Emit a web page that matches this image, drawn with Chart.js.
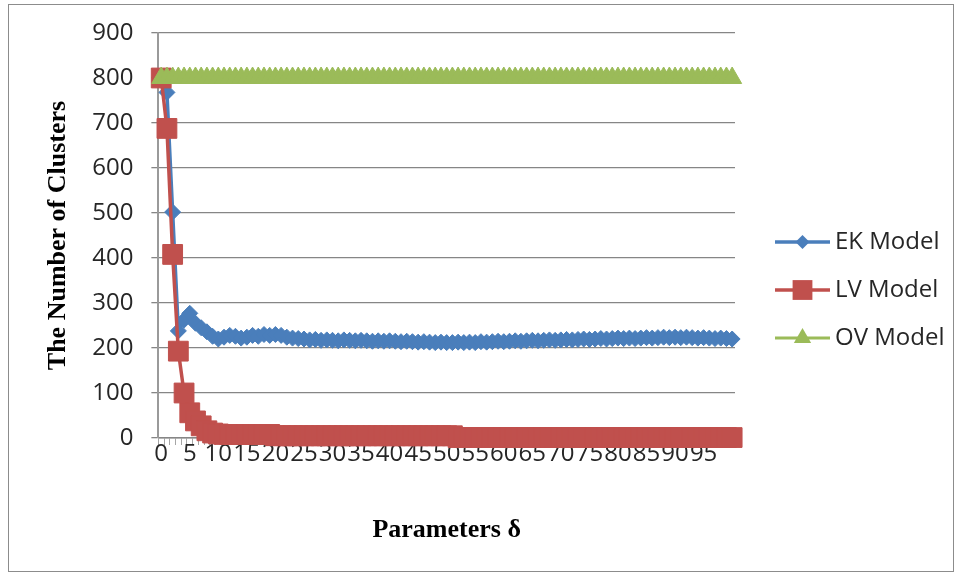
<!DOCTYPE html>
<html>
<head>
<meta charset="utf-8">
<title>Number of clusters vs parameter delta</title>
<script src="https://cdn.jsdelivr.net/npm/chart.js@4.4.1/dist/chart.umd.min.js"></script>
<style>
  html, body { margin: 0; padding: 0; background: #fff; }
  #wrap { position: relative; width: 961px; height: 579px; }
  #frame { position: absolute; left: 8px; top: 4px; width: 944px; height: 566px; border: 1px solid #8c8c8c; pointer-events: none; }
  #chart { position: absolute; left: 0; top: 0; }
</style>
</head>
<body>
<div id="wrap">
  <canvas id="chart" width="961" height="579"></canvas>
  <div id="frame"></div>
</div>
<script>
// x categories: parameter delta
const deltas = [
  0, 1, 2, 3, 4, 5, 6, 7, 8, 9,
  10, 11, 12, 13, 14, 15, 16, 17, 18, 19,
  20, 21, 22, 23, 24, 25, 26, 27, 28, 29,
  30, 31, 32, 33, 34, 35, 36, 37, 38, 39,
  40, 41, 42, 43, 44, 45, 46, 47, 48, 49,
  50, 51, 52, 53, 54, 55, 56, 57, 58, 59,
  60, 61, 62, 63, 64, 65, 66, 67, 68, 69,
  70, 71, 72, 73, 74, 75, 76, 77, 78, 79,
  80, 81, 82, 83, 84, 85, 86, 87, 88, 89,
  90, 91, 92, 93, 94, 95, 96, 97, 98, 99,
  100
];

const ekModel = [
  800, 768, 502, 238, 262, 277, 255, 245, 236, 226,
  220, 224, 228, 226, 222, 224, 228, 226, 230, 228,
  230, 228, 224, 222, 221, 220, 218, 219, 217, 218,
  217, 216, 218, 217, 216, 217, 216, 215, 216, 215,
  216, 215, 214, 215, 214, 213, 214, 213, 212, 213,
  212, 212, 213, 212, 213, 212, 214, 213, 214, 215,
  214, 215, 216, 215, 216, 217, 216, 217, 218, 217,
  218, 219, 218, 219, 220, 219, 220, 221, 220, 221,
  222, 221, 222, 221, 222, 223, 222, 223, 224, 223,
  224, 223, 224, 223, 222, 223, 222, 221, 222, 221,
  220
];

const lvModel = [
  800, 688, 408, 193, 100, 56, 38, 27, 16, 11,
  9, 8, 8, 8, 8, 8, 8, 8, 8, 8,
  5, 5, 5, 5, 5, 5, 5, 5, 5, 5,
  5, 5, 5, 5, 5, 5, 5, 5, 5, 5,
  5, 5, 5, 5, 5, 5, 5, 5, 5, 5,
  5, 5, 1, 1, 1, 1, 1, 1, 1, 1,
  1, 1, 1, 1, 1, 1, 1, 1, 1, 1,
  1, 1, 1, 1, 1, 1, 1, 1, 1, 1,
  1, 1, 1, 1, 1, 1, 1, 1, 1, 1,
  1, 1, 1, 1, 1, 1, 1, 1, 1, 1,
  1
];

const ovModel = [
  800, 800, 800, 800, 800, 800, 800, 800, 800, 800,
  800, 800, 800, 800, 800, 800, 800, 800, 800, 800,
  800, 800, 800, 800, 800, 800, 800, 800, 800, 800,
  800, 800, 800, 800, 800, 800, 800, 800, 800, 800,
  800, 800, 800, 800, 800, 800, 800, 800, 800, 800,
  800, 800, 800, 800, 800, 800, 800, 800, 800, 800,
  800, 800, 800, 800, 800, 800, 800, 800, 800, 800,
  800, 800, 800, 800, 800, 800, 800, 800, 800, 800,
  800, 800, 800, 800, 800, 800, 800, 800, 800, 800,
  800, 800, 800, 800, 800, 800, 800, 800, 800, 800,
  800
];

const yTicks = [0, 100, 200, 300, 400, 500, 600, 700, 800, 900];

const BLUE = '#4a7ebb';
const RED = '#c0504d';
const GREEN = '#9bbb59';
const GRID = '#868686';
const TEXT = '#262626';

// draws a small marker for the legend samples
function legendMarker(ctx, style, x, y, r) {
    ctx.beginPath();
    if (style === 'rectRot') {
        ctx.moveTo(x, y - r); ctx.lineTo(x + r, y); ctx.lineTo(x, y + r); ctx.lineTo(x - r, y);
    } else if (style === 'rect') {
        const s = r * Math.SQRT1_2;
        ctx.rect(x - s, y - s, 2 * s, 2 * s);
    } else {
        ctx.moveTo(x, y - r);
        ctx.lineTo(x + r * 0.866, y + r / 2);
        ctx.lineTo(x - r * 0.866, y + r / 2);
    }
    ctx.closePath();
    ctx.fill();
}

const sideLegend = {
    id: 'sideLegend',
    afterDraw(chart) {
        const ctx = chart.ctx;
        const area = chart.chartArea;
        const x0 = area.right + 40, x1 = x0 + 55;
        const rowGap = 48;
        const yStart = 242;
        ctx.save();
        chart.data.datasets.forEach((ds, i) => {
            const y = yStart + i * rowGap;
            ctx.strokeStyle = ds.borderColor;
            ctx.fillStyle = ds.borderColor;
            ctx.lineWidth = ds.borderWidth;
            ctx.beginPath();
            ctx.moveTo(x0, y);
            ctx.lineTo(x1, y);
            ctx.stroke();
            legendMarker(ctx, ds.pointStyle, (x0 + x1) / 2, y, ds.legendRadius);
            ctx.fillStyle = TEXT;
            ctx.font = '24px "Open Sans"';
            ctx.textBaseline = 'middle';
            ctx.textAlign = 'left';
            ctx.fillText(ds.label, x1 + 5, y);
        });
        ctx.restore();
    }
};

const tickFont = { family: 'Open Sans', size: 24 };
const titleFont = { family: 'Liberation Serif', size: 26, weight: 'bold' };

new Chart(document.getElementById('chart'), {
    type: 'line',
    data: {
        labels: deltas,
        datasets: [
            {
                label: 'EK Model', data: ekModel, order: 3,
                borderColor: BLUE, backgroundColor: BLUE, borderWidth: 3.5,
                pointStyle: 'rectRot', pointRadius: 8, legendRadius: 7,
                pointBackgroundColor: BLUE, pointBorderColor: BLUE, pointBorderWidth: 1
            },
            {
                label: 'LV Model', data: lvModel, order: 2,
                borderColor: RED, backgroundColor: RED, borderWidth: 3.5,
                pointStyle: 'rect', pointRadius: 14, legendRadius: 14,
                pointBackgroundColor: RED, pointBorderColor: RED, pointBorderWidth: 1
            },
            {
                label: 'OV Model', data: ovModel, order: 1,
                borderColor: GREEN, backgroundColor: GREEN, borderWidth: 3,
                pointStyle: 'triangle', pointRadius: 11, legendRadius: 10,
                pointBackgroundColor: GREEN, pointBorderColor: GREEN, pointBorderWidth: 1
            }
        ]
    },
    options: {
        responsive: false,
        animation: false,
        clip: false,
        layout: { padding: { left: 43, right: 226, top: 33, bottom: 33 } },
        plugins: {
            legend: { display: false },
            tooltip: { enabled: false }
        },
        scales: {
            x: {
                type: 'category',
                offset: true,
                grid: { offset: true, drawOnChartArea: false, tickLength: 7, color: '#a6a6a6', lineWidth: 1 },
                border: { color: GRID, width: 1.5 },
                ticks: {
                    autoSkip: false, maxRotation: 0, minRotation: 0, padding: -5,
                    color: TEXT, font: tickFont,
                    callback: function (value, index) {
                        return index % 5 === 0 && index < 100 ? String(deltas[index]) : '';
                    }
                },
                title: {
                    display: true, text: 'Parameters δ', color: '#000', font: titleFont,
                    padding: { top: 51, bottom: 0 }
                }
            },
            y: {
                min: yTicks[0],
                max: yTicks[yTicks.length - 1],
                afterBuildTicks: (scale) => { scale.ticks = yTicks.map(v => ({ value: v })); },
                grid: { color: GRID, lineWidth: 1.3, tickLength: 7 },
                border: { color: '#9a9a9a', width: 2 },
                ticks: { padding: 18, color: TEXT, font: tickFont },
                title: {
                    display: true, text: 'The Number of Clusters', color: '#000', font: titleFont,
                    padding: { top: 0, bottom: 0 }
                }
            }
        }
    },
    plugins: [sideLegend]
});
</script>
</body>
</html>
